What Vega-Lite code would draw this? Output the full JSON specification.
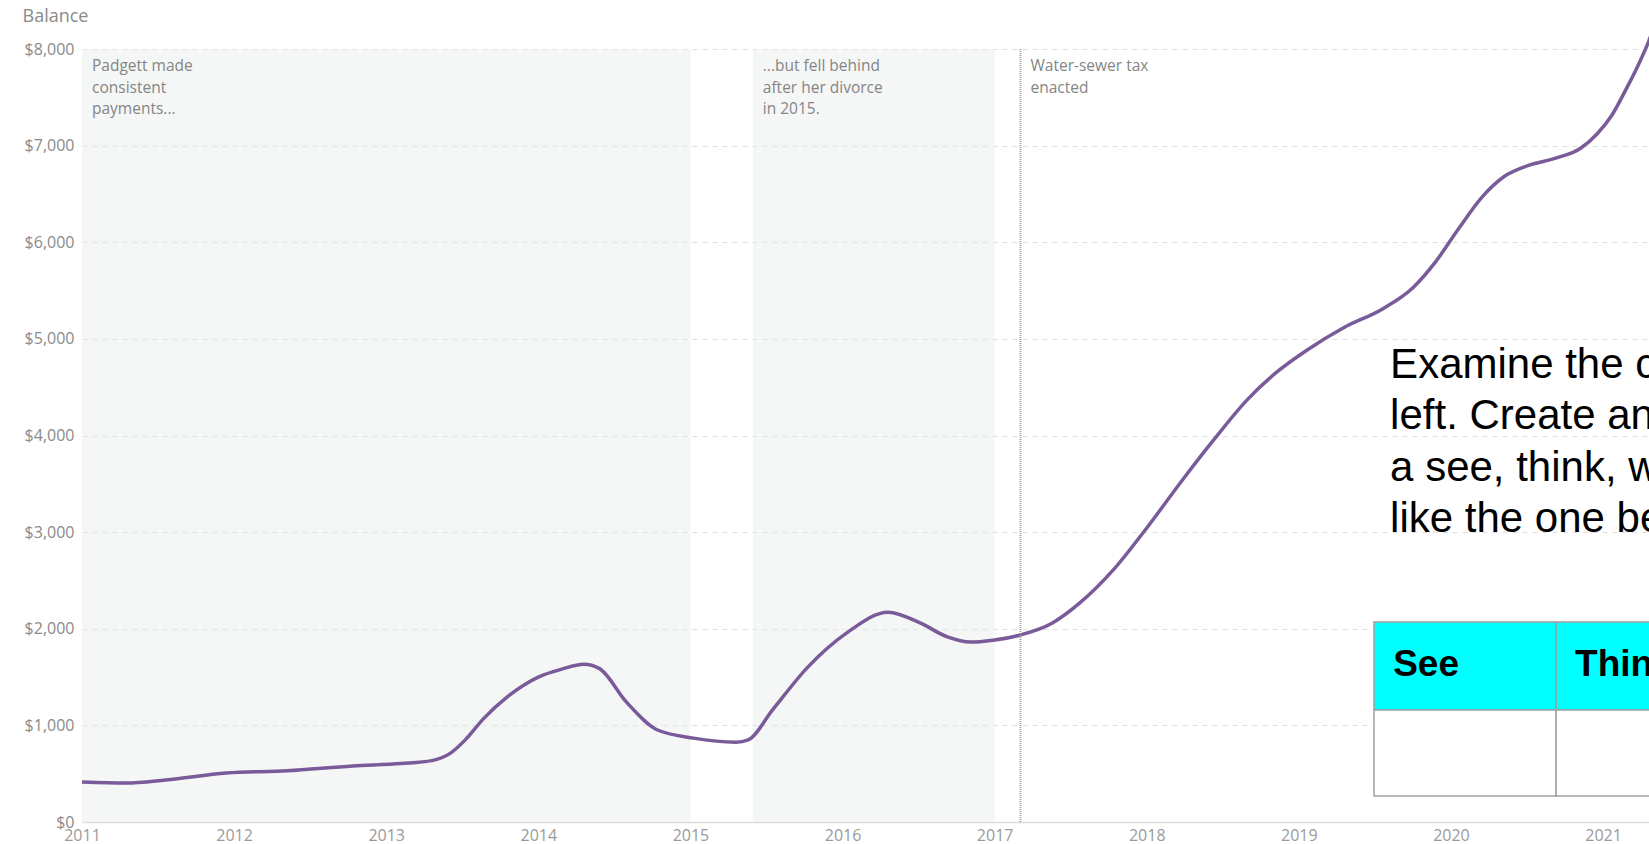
{
  "$schema": "https://vega.github.io/schema/vega-lite/v6.json",
  "width": 1567,
  "height": 773,
  "autosize": {"type": "none"},
  "padding": {"left": 82, "top": 49, "right": 0, "bottom": 22},
  "background": "#ffffff",
  "config": {
    "view": {"stroke": null},
    "font": "Open Sans"
  },
  "datasets": {
    "balance": [
      {"year": 2011.0, "balance": 414},
      {"year": 2011.29, "balance": 404},
      {"year": 2011.55, "balance": 435},
      {"year": 2011.95, "balance": 507},
      {"year": 2012.35, "balance": 530},
      {"year": 2012.78, "balance": 580},
      {"year": 2013.1, "balance": 605},
      {"year": 2013.3, "balance": 635},
      {"year": 2013.42, "balance": 710},
      {"year": 2013.52, "balance": 850},
      {"year": 2013.64, "balance": 1070},
      {"year": 2013.8, "balance": 1300},
      {"year": 2014.0, "balance": 1500},
      {"year": 2014.15, "balance": 1580},
      {"year": 2014.3, "balance": 1632},
      {"year": 2014.4, "balance": 1590},
      {"year": 2014.58, "balance": 1240},
      {"year": 2014.78, "balance": 955},
      {"year": 2015.02, "balance": 868},
      {"year": 2015.3, "balance": 826},
      {"year": 2015.38, "balance": 850},
      {"year": 2015.54, "balance": 1160},
      {"year": 2015.77, "balance": 1600},
      {"year": 2016.03, "balance": 1960},
      {"year": 2016.3, "balance": 2172},
      {"year": 2016.51, "balance": 2060},
      {"year": 2016.69, "balance": 1915},
      {"year": 2016.84, "balance": 1862},
      {"year": 2016.99, "balance": 1882},
      {"year": 2017.17, "balance": 1936},
      {"year": 2017.38, "balance": 2060},
      {"year": 2017.56, "balance": 2267},
      {"year": 2017.78, "balance": 2609},
      {"year": 2018.0, "balance": 3043},
      {"year": 2018.22, "balance": 3509},
      {"year": 2018.44, "balance": 3954},
      {"year": 2018.66, "balance": 4369},
      {"year": 2018.85, "balance": 4650},
      {"year": 2019.05, "balance": 4880},
      {"year": 2019.3, "balance": 5120},
      {"year": 2019.55, "balance": 5310},
      {"year": 2019.75, "balance": 5530},
      {"year": 2019.9, "balance": 5800},
      {"year": 2020.05, "balance": 6140},
      {"year": 2020.2, "balance": 6460},
      {"year": 2020.35, "balance": 6680},
      {"year": 2020.5, "balance": 6790},
      {"year": 2020.7, "balance": 6875},
      {"year": 2020.85, "balance": 6970},
      {"year": 2020.96, "balance": 7120},
      {"year": 2021.06, "balance": 7320},
      {"year": 2021.15, "balance": 7580},
      {"year": 2021.23, "balance": 7830},
      {"year": 2021.3, "balance": 8080},
      {"year": 2021.34, "balance": 8250}
    ],
    "shade": [
      {"start": 2011.0, "end": 2015.0},
      {"start": 2015.41, "end": 2017.0}
    ],
    "notes": [
      {"year": 2011.0, "label": "Padgett made\nconsistent\npayments..."},
      {"year": 2015.41, "label": "...but fell behind\nafter her divorce\nin 2015."},
      {"year": 2017.17, "label": "Water-sewer tax\nenacted"}
    ],
    "tax": [{"year": 2017.17}],
    "cells": [
      {"x1": 2019.494, "x2": 2020.691, "y1": 1159, "y2": 2070, "row": "header"},
      {"x1": 2020.691, "x2": 2021.5, "y1": 1159, "y2": 2070, "row": "header"},
      {"x1": 2019.494, "x2": 2020.691, "y1": 269, "y2": 1159, "row": "body"},
      {"x1": 2020.691, "x2": 2021.5, "y1": 269, "y2": 1159, "row": "body"}
    ],
    "heads": [
      {"year": 2019.62, "value": 1511, "label": "See"},
      {"year": 2020.816, "value": 1511, "label": "Think"}
    ],
    "prompt": [
      {"year": 2019.6, "value": 4596, "label": "Examine the chart on the\nleft. Create and complete\na see, think, wonder chart\nlike the one below."}
    ]
  },
  "layer": [
    {
      "data": {"name": "shade"},
      "mark": {"type": "rect", "fill": "#e6e9e9", "opacity": 0.42},
      "encoding": {
        "x": {
          "field": "start", "type": "quantitative", "title": null,
          "scale": {"domain": [2011, 2021.302], "nice": false, "zero": false},
          "axis": {
            "title": null, "values": [2011, 2012, 2013, 2014, 2015, 2016, 2017, 2018, 2019, 2020, 2021],
            "format": "d", "labelFontSize": 16, "labelColor": "#9a9a9a", "ticks": false, "grid": false,
            "domainColor": "#dddddd", "domainWidth": 1.5, "labelPadding": 5, "labelFlush": false
          }
        },
        "x2": {"field": "end"},
        "y": {
          "datum": 8000, "type": "quantitative", "title": "Balance",
          "scale": {"domain": [0, 8000], "nice": false},
          "axis": {
            "title": "Balance", "values": [0, 1000, 2000, 3000, 4000, 5000, 6000, 7000, 8000],
            "format": "$,.0f", "labelFontSize": 16, "labelColor": "#8a8a8a", "ticks": false, "domain": false,
            "grid": true, "gridColor": "#dedede", "gridDash": [5, 5], "gridWidth": 1, "labelPadding": 8,
            "titleAngle": 0, "titleAlign": "left", "titleBaseline": "middle", "titleX": -60, "titleY": -33,
            "titleFontSize": 18, "titleFontWeight": "normal", "titleColor": "#8a8a8a", "titleFont": "Open Sans"
          }
        },
        "y2": {"datum": 0}
      }
    },
    {
      "data": {"name": "balance"},
      "mark": {"type": "line", "color": "#7a5b99", "strokeWidth": 3.5, "interpolate": "monotone", "clip": false},
      "encoding": {
        "x": {"field": "year", "type": "quantitative", "title": null},
        "y": {"field": "balance", "type": "quantitative", "title": "Balance"}
      }
    },
    {
      "data": {"name": "tax"},
      "mark": {"type": "rule", "color": "#9a9a9a", "strokeWidth": 1.8, "strokeDash": [1, 1]},
      "encoding": {
        "x": {"field": "year", "type": "quantitative", "title": null},
        "y": {"datum": 8000, "type": "quantitative", "title": "Balance"},
        "y2": {"datum": 0}
      }
    },
    {
      "data": {"name": "notes"},
      "mark": {"type": "text", "align": "left", "baseline": "alphabetic", "dx": 10, "dy": 22, "fontSize": 15.5, "lineHeight": 21.5, "lineBreak": "\n", "color": "#858585", "font": "Open Sans"},
      "encoding": {
        "x": {"field": "year", "type": "quantitative", "title": null},
        "y": {"datum": 8000, "type": "quantitative", "title": "Balance"},
        "text": {"field": "label"}
      }
    },
    {
      "data": {"name": "cells"},
      "mark": {"type": "rect", "stroke": "#a0a0a0", "strokeWidth": 1.5, "clip": false},
      "encoding": {
        "x": {"field": "x1", "type": "quantitative", "title": null},
        "x2": {"field": "x2"},
        "y": {"field": "y1", "type": "quantitative", "title": "Balance"},
        "y2": {"field": "y2"},
        "fill": {"field": "row", "type": "nominal", "scale": {"domain": ["header", "body"], "range": ["#00ffff", "#ffffff"]}, "legend": null}
      }
    },
    {
      "data": {"name": "heads"},
      "mark": {"type": "text", "align": "left", "baseline": "alphabetic", "fontSize": 37, "fontWeight": "bold", "font": "Liberation Sans", "color": "#000000", "clip": false},
      "encoding": {
        "x": {"field": "year", "type": "quantitative", "title": null},
        "y": {"field": "value", "type": "quantitative", "title": "Balance"},
        "text": {"field": "label"}
      }
    },
    {
      "data": {"name": "prompt"},
      "mark": {"type": "text", "align": "left", "baseline": "alphabetic", "fontSize": 42, "lineHeight": 51.5, "lineBreak": "\n", "font": "Liberation Sans", "color": "#000000", "clip": false},
      "encoding": {
        "x": {"field": "year", "type": "quantitative", "title": null},
        "y": {"field": "value", "type": "quantitative", "title": "Balance"},
        "text": {"field": "label"}
      }
    }
  ]
}
